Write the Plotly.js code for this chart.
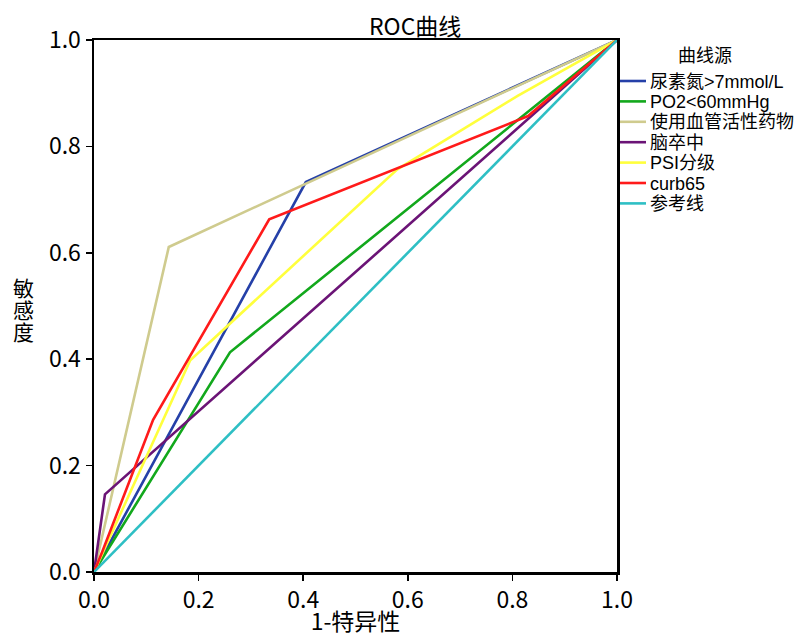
<!DOCTYPE html>
<html>
<head>
<meta charset="utf-8">
<script src="https://cdn.plot.ly/plotly-3.0.1.min.js"></script>
<style>body{margin:0;background:#fff;} #chart{width:801px;height:637px;}</style>
</head>
<body>
<div id="chart"></div>
<script>
// Series names (legend order)
const seriesNames = ["尿素氮>7mmol/L", "PO2<60mmHg", "使用血管活性药物", "脑卒中", "PSI分级", "curb65", "参考线"];
const seriesColors = ["#2540a8", "#12a81c", "#cfcb8e", "#6b1476", "#ffff3c", "#ff1a1a", "#2ebfc4"];
const legendTitle = "曲线源";

// ROC points: x = 1-特异性, y = 敏感度
const ureaX = [0, 0.405, 1];
const ureaY = [0, 0.733, 1];
const po2X = [0, 0.26, 1];
const po2Y = [0, 0.413, 1];
const vasoX = [0, 0.143, 1];
const vasoY = [0, 0.611, 1];
const strokeX = [0, 0.021, 1];
const strokeY = [0, 0.146, 1];
const psiX = [0, 0.184, 0.58, 0.81, 1];
const psiY = [0, 0.398, 0.757, 0.895, 1];
const curbX = [0, 0.015, 0.113, 0.335, 0.83, 1];
const curbY = [0, 0.036, 0.286, 0.663, 0.857, 1];
const refX = [0, 1];
const refY = [0, 1];

const xs = [ureaX, po2X, vasoX, strokeX, psiX, curbX, refX];
const ys = [ureaY, po2Y, vasoY, strokeY, psiY, curbY, refY];

const tickVals = [0, 0.2, 0.4, 0.6, 0.8, 1.0];
const tickText = ["0.0", "0.2", "0.4", "0.6", "0.8", "1.0"];

const NARROW = "Liberation Sans Narrow, Arial Narrow, Noto Sans CJK SC, sans-serif";
const FONT = "Liberation Sans, Arial, Noto Sans CJK SC, sans-serif";

// Plot geometry (pixels)
const W = 801, H = 637, ML = 94, MR = 184, MT = 40, MB = 65;
const PW = W - ML - MR, PH = H - MT - MB;
const px2x = p => (p - ML) / PW;          // pixel -> paper x
const py2y = p => (H - MB - p) / PH;      // pixel -> paper y

const traces = seriesNames.map((n, i) => ({
  x: xs[i], y: ys[i], name: n, type: "scatter", mode: "lines",
  line: {color: seriesColors[i], width: 2.6},
  hoverinfo: "skip", showlegend: false
}));

const axisCommon = {
  range: [0, 1], showgrid: false, zeroline: false,
  showline: true, linecolor: "#000", linewidth: 2.5, mirror: true,
  ticks: "outside", ticklen: 6, tickwidth: 1.5, tickcolor: "#000",
  tickmode: "array", tickvals: tickVals, ticktext: tickText,
  tickfont: {family: NARROW, size: 23, color: "#000"}
};

// Manual legend (SPSS style: tight rows)
const annotations = [
  {text: "ROC曲线", xref: "paper", yref: "paper", x: px2x(415), y: py2y(25), xanchor: "center", yanchor: "middle",
   showarrow: false, font: {family: NARROW, size: 23, color: "#000"}},
  {text: legendTitle, xref: "paper", yref: "paper", x: px2x(705), y: py2y(56), xanchor: "center", yanchor: "middle",
   showarrow: false, font: {family: FONT, size: 18, color: "#000"}}
];
["敏", "感", "度"].forEach((c, k) => annotations.push({
  text: c, xref: "paper", yref: "paper", x: px2x(23), y: py2y(288 + 22 * k), xanchor: "center", yanchor: "middle",
  showarrow: false, font: {family: FONT, size: 21, color: "#000"}
}));
const shapes = [];
seriesNames.forEach((n, i) => {
  const yy = 81 + 20.4 * i;
  shapes.push({type: "line", xref: "paper", yref: "paper", x0: px2x(620), x1: px2x(646), y0: py2y(yy), y1: py2y(yy),
    line: {color: seriesColors[i], width: 2.6}});
  annotations.push({text: n, xref: "paper", yref: "paper", x: px2x(648), y: py2y(yy + 0.5), xanchor: "left", yanchor: "middle",
    showarrow: false, font: {family: FONT, size: 18, color: "#000"}});
});

const layout = {
  width: W, height: H,
  margin: {l: ML, r: MR, t: MT, b: MB, autoexpand: false},
  paper_bgcolor: "#fff", plot_bgcolor: "#fff",
  showlegend: false,
  xaxis: Object.assign({}, axisCommon, {
    title: {text: "1-特异性", font: {family: NARROW, size: 23, color: "#000"}, standoff: 8}
  }),
  yaxis: Object.assign({}, axisCommon, {title: {text: ""}}),
  annotations: annotations,
  shapes: shapes
};

Plotly.newPlot("chart", traces, layout, {displayModeBar: false, staticPlot: true});
</script>
</body>
</html>
